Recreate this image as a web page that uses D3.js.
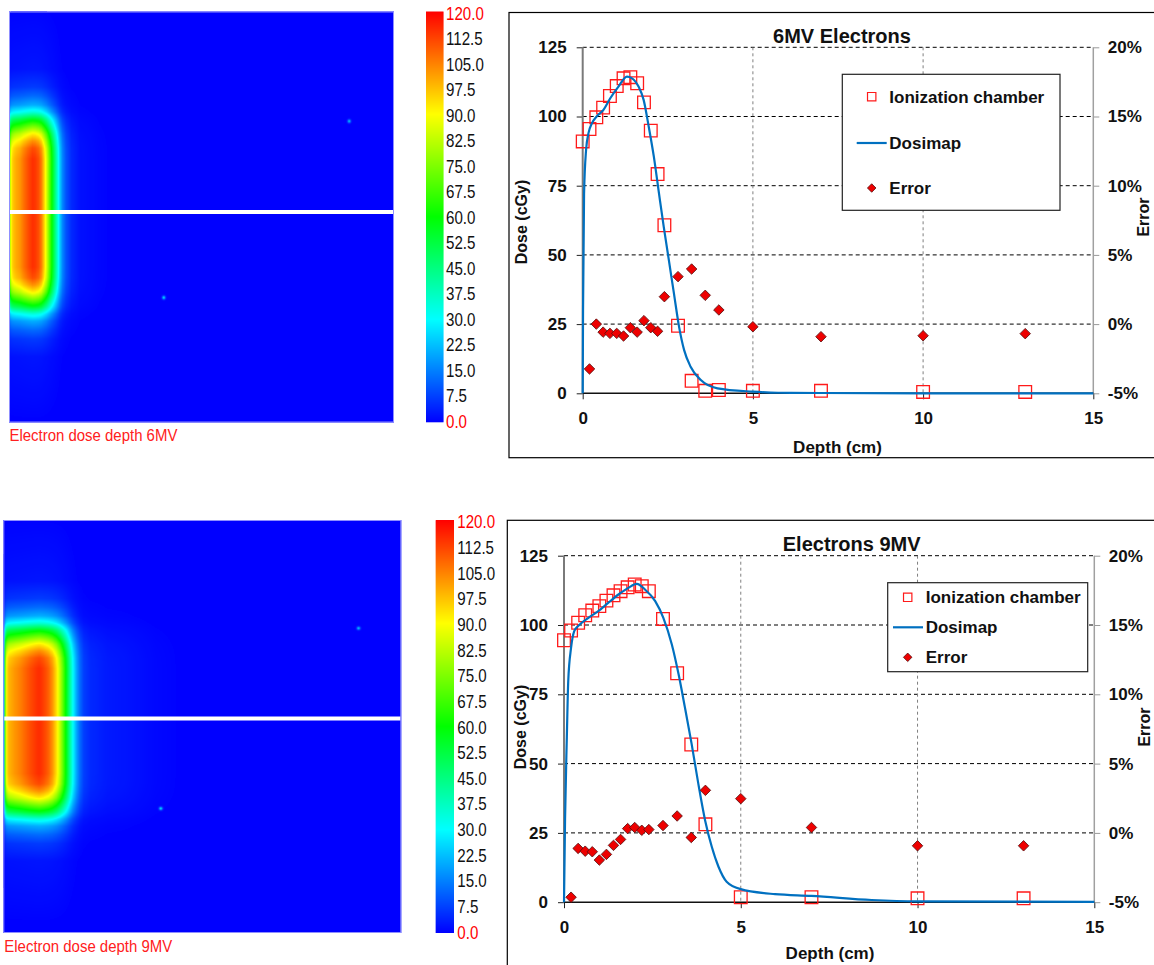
<!DOCTYPE html>
<html><head><meta charset="utf-8">
<script src="https://cdn.jsdelivr.net/npm/d3@7"></script>
<style>
body{margin:0;background:#fff;}
svg{display:block;font-family:"Liberation Sans",Arial,sans-serif;}
</style></head><body>
<svg id="chart" width="1154" height="965"></svg>
<script>
// ---------------- DATA ----------------
const depthTicks = [0, 5, 10, 15];
const doseTicks = [0, 25, 50, 75, 100, 125];
const errTicks = [-5, 0, 5, 10, 15, 20];
const colorbarLabels = ["120.0","112.5","105.0","97.5","90.0","82.5","75.0","67.5","60.0","52.5","45.0","37.5","30.0","22.5","15.0","7.5","0.0"];
const colorStops = [0, 30, 60, 90, 120];
const colorStopColors = ["#0000ff", "#00ffff", "#00ff00", "#ffff00", "#ff0000"];
const seriesNames = ["Ionization chamber", "Dosimap", "Error"];

// 6MV
const ic6Depth = [0, 0.2, 0.4, 0.6, 0.8, 1.0, 1.2, 1.4, 1.6, 1.8, 2.0, 2.2, 2.4, 2.8, 3.2, 3.6, 4.0, 5, 7, 10, 13];
const ic6Dose  = [91, 95.5, 99.7, 103.2, 107.4, 111, 113.8, 114.2, 112, 105.1, 94.9, 79.2, 60.7, 24.4, 4.5, 0.9, 1.2, 0.9, 0.9, 0.5, 0.5];
const err6Depth = [0.2, 0.4, 0.6, 0.8, 1.0, 1.2, 1.4, 1.6, 1.8, 2.0, 2.2, 2.4, 2.8, 3.2, 3.6, 4.0, 5, 7, 10, 13];
const err6     = [-3.24, 0.0, -0.58, -0.67, -0.67, -0.86, -0.26, -0.58, 0.25, -0.26, -0.52, 1.98, 3.43, 3.98, 2.08, 1.02, -0.19, -0.91, -0.84, -0.69];
const dm6Depth = [0, 0.01, 0.04, 0.1, 0.17, 0.27, 0.41, 0.61, 0.81, 1.05, 1.3, 1.45, 1.64, 1.79, 1.94, 2.09, 2.24, 2.38, 2.53, 2.68, 2.83, 2.98, 3.17, 3.47, 3.96, 5.0, 5.74, 7, 10, 15];
const dm6Dose  = [0, 30, 72, 88, 94, 97.5, 100, 102.4, 106.6, 110.8, 114.4, 113.8, 110.8, 106, 96.3, 85.5, 72.3, 60.2, 48.2, 36.1, 24.1, 15.6, 9.6, 4.8, 1.8, 0.6, 0.2, 0.1, 0, 0];

// 9MV
const ic9Depth = [0, 0.2, 0.4, 0.6, 0.8, 1.0, 1.2, 1.4, 1.6, 1.8, 2.0, 2.2, 2.4, 2.8, 3.2, 3.6, 4.0, 5, 7, 10, 13];
const ic9Dose  = [94.5, 98, 100.8, 103.5, 105.2, 106.8, 108.8, 110.7, 112.2, 113.6, 114.6, 114, 112.2, 102.2, 82.6, 56.9, 28.1, 1.8, 1.8, 1.4, 1.4];
const err9Depth = [0.2, 0.4, 0.6, 0.8, 1.0, 1.2, 1.4, 1.6, 1.8, 2.0, 2.2, 2.4, 2.8, 3.2, 3.6, 4.0, 5, 7, 10, 13];
const err9     = [-4.64, -1.12, -1.32, -1.36, -1.96, -1.55, -0.9, -0.47, 0.31, 0.39, 0.19, 0.24, 0.53, 1.22, -0.33, 3.07, 2.47, 0.39, -0.93, -0.93];
const dm9Depth = [0, 0.03, 0.08, 0.12, 0.2, 0.29, 0.4, 0.69, 0.97, 1.25, 1.54, 1.82, 2.06, 2.29, 2.58, 2.81, 3.05, 3.24, 3.42, 3.61, 3.8, 3.99, 4.18, 4.37, 4.6, 5.0, 5.97, 7, 8.7, 10, 15];
const dm9Dose  = [0, 30, 59.5, 79.8, 91.8, 97.8, 99.6, 102.6, 105, 108, 111, 113.4, 114.8, 112.8, 108.6, 102.6, 93, 82.3, 70.3, 57.1, 42.7, 29.6, 20, 12.8, 7.4, 4.7, 2.9, 2.3, 0.8, 0.3, 0.1];

// dose map lateral profile (fraction of central-axis dose vs off-axis distance, cm)
const lateralCm   = [0, 3.0, 3.6, 4.0, 4.4, 4.8, 5.2, 5.6, 6.0, 6.5, 7.0, 8.0, 12];
const lateralFrac = [1, 1, 0.97, 0.9, 0.8, 0.65, 0.5, 0.3, 0.18, 0.11, 0.06, 0.02, 0];
// small artefact spots in the maps: depth (cm), off-axis (cm), dose
const spots6Depth = [18.9, 8.6], spots6Lat = [-5.1, 4.7], spots6Dose = [22, 25];
const spots9Depth = [20.3, 9.0], spots9Lat = [-5.3, 5.0], spots9Dose = [22, 25];

// ---------------- LAYOUT ----------------
const panels = [
  {
    data: {icD: ic6Depth, icV: ic6Dose, eD: err6Depth, eV: err6, dmD: dm6Depth, dmV: dm6Dose,
           sD: spots6Depth, sL: spots6Lat, sV: spots6Dose},
    map: {x0: 9, x1: 393.5, y0: 11.5, y1: 422, lineY: 212, centerY: 213, pxPerCm: 18},
    caption: {x: 9.5, y: 440.5, text: "Electron dose depth 6MV"},
    bar: {x0: 426, x1: 443.5, y0: 11.5, y1: 422, lx: 446},
    frame: {x: 509, y: 12.5, w: 700, h: 445.2},
    plot: {x0: 582.7, x1: 1093.3, yTop: 47.3, yBot: 393.3},
    title: {text: "6MV Electrons", x: 842, y: 43.3},
    legend: {x0: 842.3, y0: 74.3, x1: 1060, y1: 210.3, mx: 871.7, lx0: 856.7, lx1: 886.7, tx: 889.3, rows: [96.7, 143, 188]},
    doseLabel: {x: 521.7, y: 222}, errLabel: {x: 1143, y: 217}, depthLabel: {x: 837.5, y: 446.7}
  },
  {
    data: {icD: ic9Depth, icV: ic9Dose, eD: err9Depth, eV: err9, dmD: dm9Depth, dmV: dm9Dose,
           sD: spots9Depth, sL: spots9Lat, sV: spots9Dose},
    map: {x0: 3.3, x1: 401.7, y0: 520, y1: 932.7, lineY: 718.5, centerY: 721, pxPerCm: 17.5},
    caption: {x: 4.3, y: 951.5, text: "Electron dose depth 9MV"},
    bar: {x0: 435.7, x1: 454, y0: 520, y1: 932.7, lx: 457.3},
    frame: {x: 507.3, y: 520.3, w: 700, h: 500},
    plot: {x0: 564, x1: 1094.3, yTop: 555.7, yBot: 902.2},
    title: {text: "Electrons 9MV", x: 851.7, y: 550.7},
    legend: {x0: 887.7, y0: 582.7, x1: 1087.7, y1: 671.7, mx: 907.7, lx0: 893, lx1: 923, tx: 925.7, rows: [597.3, 627.3, 657.3]},
    doseLabel: {x: 520, y: 727}, errLabel: {x: 1144, y: 727}, depthLabel: {x: 830, y: 953}
  }
];

const svg = d3.select("#chart");
const colorScale = d3.scaleLinear().domain(colorStops).range(colorStopColors).clamp(true);
const lut = d3.range(0, 1201).map(i => d3.rgb(colorScale(i / 10)));

const LINE_COLOR = "#0070c0";
const squareSym = d3.symbol().type(d3.symbolSquare);
const diamondPath = (s) => d3.symbol().type(d3.symbolSquare).size(s)();

panels.forEach(p => {
  const d = p.data;
  // ---------- heat map ----------
  const m = p.map;
  const w = Math.round(m.x1 - m.x0), h = Math.round(m.y1 - m.y0);
  svg.append("rect").attr("x", m.x0).attr("y", m.y0).attr("width", w).attr("height", h)
    .attr("fill", colorScale(0));
  const canvas = document.createElement("canvas");
  canvas.width = w; canvas.height = h;
  const ctx = canvas.getContext("2d");
  const img = ctx.createImageData(w, h);
  const cmToPx = d3.scaleLinear().domain([0, 1]).range([0, m.pxPerCm]);
  const ddScale = d3.scaleLinear().domain(d.dmD).range(d.dmV).clamp(true);
  const latScale = d3.scaleLinear().domain(lateralCm).range(lateralFrac).clamp(true);
  for (let py = 0; py < h; py++) {
    const latSigned = cmToPx.invert(py + 0.5 + m.y0 - m.centerY);
    const f = latScale(Math.abs(latSigned));
    for (let px = 0; px < w; px++) {
      const depth = cmToPx.invert(px + 0.5);
      let dose = ddScale(depth) * f;
      for (let k = 0; k < d.sD.length; k++) {
        const dx = cmToPx(depth - d.sD[k]), dy = cmToPx(latSigned - d.sL[k]);
        const r2 = dx * dx + dy * dy;
        if (r2 < 16) dose += d.sV[k] * Math.exp(-r2 / 3);
      }
      const idx = Math.max(0, Math.min(1200, Math.round(dose * 10)));
      const c = lut[idx];
      const i = (py * w + px) * 4;
      img.data[i] = c.r; img.data[i + 1] = c.g; img.data[i + 2] = c.b;
      img.data[i + 3] = idx < 4 ? 0 : 255;
    }
  }
  ctx.putImageData(img, 0, 0);
  svg.append("image").attr("x", m.x0).attr("y", m.y0).attr("width", w).attr("height", h)
    .attr("preserveAspectRatio", "none").attr("href", canvas.toDataURL());
  svg.append("rect").attr("x", m.x0 + 0.5).attr("y", m.y0 + 0.5).attr("width", w - 1).attr("height", h - 1)
    .attr("fill", "none").attr("stroke", "#8f8fff").attr("stroke-width", 1);
  svg.append("rect").attr("x", m.x0 + 1).attr("y", m.lineY - 2).attr("width", w - 2).attr("height", 4).attr("fill", "#fff");
  svg.append("text").attr("transform", `translate(${p.caption.x},${p.caption.y}) scale(0.88,1)`)
    .attr("font-size", 17).attr("fill", "#ff2020").text(p.caption.text);

  // ---------- color bar ----------
  const b = p.bar;
  const barScale = d3.scaleLinear().domain([120, 0]).range([b.y0, b.y1]);
  const rows = d3.range(Math.floor(b.y0), Math.ceil(b.y1));
  svg.append("g").selectAll("rect").data(rows).join("rect")
    .attr("x", b.x0).attr("width", b.x1 - b.x0)
    .attr("y", r => Math.max(r, b.y0)).attr("height", r => Math.min(r + 1, b.y1) - Math.max(r, b.y0) + 0.3)
    .attr("fill", r => colorScale(barScale.invert(r + 0.5)));
  const labelScale = d3.scaleLinear().domain([0, colorbarLabels.length - 1]).range([b.y0 + 2, b.y1 - 0.5]);
  svg.append("g").selectAll("text").data(colorbarLabels).join("text")
    .attr("transform", (t, i) => `translate(${b.lx},${labelScale(i)}) scale(0.84,1)`)
    .attr("dy", "0.36em").attr("font-size", 18)
    .attr("fill", (t, i) => (i === 0 || i === colorbarLabels.length - 1) ? "#ff0000" : "#111")
    .text(t => t);

  // ---------- chart ----------
  const f = p.frame;
  svg.append("rect").attr("x", f.x).attr("y", f.y).attr("width", f.w).attr("height", f.h)
    .attr("fill", "none").attr("stroke", "#000").attr("stroke-width", 1.2);
  const pl = p.plot;
  const x = d3.scaleLinear().domain([0, 15]).range([pl.x0, pl.x1]);
  const y = d3.scaleLinear().domain([0, 125]).range([pl.yBot, pl.yTop]);
  const y2 = d3.scaleLinear().domain([-5, 20]).range([pl.yBot, pl.yTop]);
  const g = svg.append("g");

  g.append("g").selectAll("line").data(doseTicks.filter(t => t > 0)).join("line")
    .attr("x1", pl.x0).attr("x2", pl.x1).attr("y1", t => y(t)).attr("y2", t => y(t))
    .attr("stroke", "#000").attr("stroke-width", 1).attr("stroke-dasharray", "4,3");
  g.append("g").selectAll("line").data(depthTicks.filter(t => t > 0 && t < 15)).join("line")
    .attr("x1", t => x(t)).attr("x2", t => x(t)).attr("y1", pl.yTop).attr("y2", pl.yBot)
    .attr("stroke", "#7f7f7f").attr("stroke-width", 1).attr("stroke-dasharray", "3,3");

  const axL = d3.axisLeft(y).tickValues(doseTicks).tickSize(6).tickPadding(10).tickFormat(d3.format("d"));
  const axB = d3.axisBottom(x).tickValues(depthTicks).tickSize(6).tickPadding(13).tickFormat(d3.format("d"));
  const axR = d3.axisRight(y2).tickValues(errTicks).tickSize(6).tickPadding(8.5).tickFormat(t => t + "%");
  const gl = g.append("g").attr("transform", `translate(${pl.x0},0)`).call(axL);
  const gb = g.append("g").attr("transform", `translate(0,${pl.yBot})`).call(axB);
  const gr = g.append("g").attr("transform", `translate(${pl.x1},0)`).call(axR);
  [gl, gb, gr].forEach(a => {
    a.select(".domain").remove();
    a.selectAll("text").attr("font-size", 17).attr("font-weight", "bold").attr("fill", "#111")
      .attr("font-family", '"Liberation Sans",Arial,sans-serif');
  });
  gl.selectAll("line").attr("stroke", "#222");
  gb.selectAll("line").attr("stroke", "#222");
  gr.selectAll("line").attr("stroke", "#999");
  g.append("line").attr("x1", pl.x0).attr("x2", pl.x0).attr("y1", pl.yTop).attr("y2", pl.yBot)
    .attr("stroke", "#7a7a7a").attr("stroke-width", 2);
  g.append("line").attr("x1", pl.x1).attr("x2", pl.x1).attr("y1", pl.yTop).attr("y2", pl.yBot)
    .attr("stroke", "#a0a0a0").attr("stroke-width", 1.5);
  g.append("line").attr("x1", pl.x0).attr("x2", pl.x1).attr("y1", pl.yBot).attr("y2", pl.yBot)
    .attr("stroke", "#111").attr("stroke-width", 1.6);

  g.append("g").selectAll("path").data(d.icD).join("path")
    .attr("transform", (v, i) => `translate(${x(v)},${y(d.icV[i])})`)
    .attr("d", squareSym.size(160)()).attr("fill", "none").attr("stroke", "#ff1a1a").attr("stroke-width", 1.3);
  const pts = d.dmD.map((v, i) => [v, d.dmV[i]]);
  g.append("path").datum(pts)
    .attr("d", d3.line().x(q => x(q[0])).y(q => y(q[1])).curve(d3.curveMonotoneX))
    .attr("fill", "none").attr("stroke", LINE_COLOR).attr("stroke-width", 2.2);
  g.append("g").selectAll("path").data(d.eD).join("path")
    .attr("transform", (v, i) => `translate(${x(v)},${y2(d.eV[i])}) rotate(45)`)
    .attr("d", diamondPath(55)).attr("fill", "#ee0000").attr("stroke", "#5a1010").attr("stroke-width", 0.8);

  svg.append("text").attr("x", p.title.x).attr("y", p.title.y).attr("text-anchor", "middle")
    .attr("font-size", 20).attr("font-weight", "bold").attr("fill", "#111").text(p.title.text);
  svg.append("text").attr("transform", `translate(${p.doseLabel.x},${p.doseLabel.y}) rotate(-90)`)
    .attr("text-anchor", "middle").attr("dy", "0.35em").attr("font-size", 16).attr("font-weight", "bold")
    .attr("fill", "#111").text("Dose (cGy)");
  svg.append("text").attr("transform", `translate(${p.errLabel.x},${p.errLabel.y}) rotate(-90)`)
    .attr("text-anchor", "middle").attr("dy", "0.35em").attr("font-size", 16).attr("font-weight", "bold")
    .attr("fill", "#111").text("Error");
  svg.append("text").attr("x", p.depthLabel.x).attr("y", p.depthLabel.y).attr("text-anchor", "middle")
    .attr("dy", "0.35em").attr("font-size", 17).attr("font-weight", "bold").attr("fill", "#111").text("Depth (cm)");

  const L = p.legend;
  const lg = svg.append("g");
  lg.append("rect").attr("x", L.x0).attr("y", L.y0).attr("width", L.x1 - L.x0).attr("height", L.y1 - L.y0)
    .attr("fill", "#fff").attr("stroke", "#222").attr("stroke-width", 1.2);
  lg.append("path").attr("transform", `translate(${L.mx},${L.rows[0]})`).attr("d", squareSym.size(70)())
    .attr("fill", "none").attr("stroke", "#ff1a1a").attr("stroke-width", 1.2);
  lg.append("line").attr("x1", L.lx0).attr("x2", L.lx1).attr("y1", L.rows[1]).attr("y2", L.rows[1])
    .attr("stroke", LINE_COLOR).attr("stroke-width", 2.2);
  lg.append("path").attr("transform", `translate(${L.mx},${L.rows[2]}) rotate(45)`).attr("d", diamondPath(36))
    .attr("fill", "#ee0000").attr("stroke", "#5a1010").attr("stroke-width", 0.8);
  lg.selectAll("text").data(seriesNames).join("text")
    .attr("x", L.tx).attr("y", (s, i) => L.rows[i]).attr("dy", "0.35em")
    .attr("font-size", 17).attr("font-weight", "bold").attr("fill", "#111").text(s => s);
});
</script>
</body></html>
